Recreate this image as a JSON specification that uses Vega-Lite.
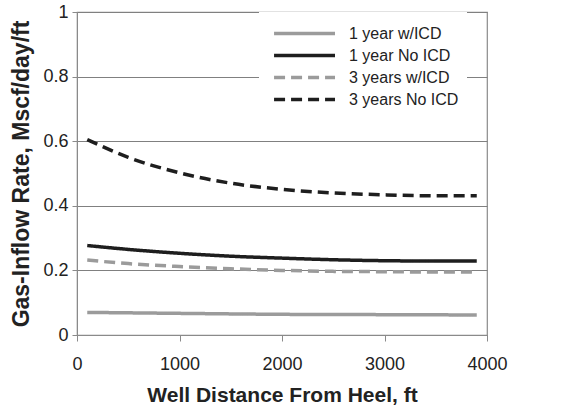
{
  "$schema": "https://vega.github.io/schema/vega-lite/v6.json",
  "width": 410,
  "height": 323,
  "autosize": "none",
  "padding": {"left": 77, "top": 12, "right": 96, "bottom": 77},
  "background": "white",
  "config": {
    "font": "Liberation Sans",
    "view": {"stroke": "#8a8a8a", "strokeWidth": 1.2}
  },
  "data": {
    "values": [
      {"d": 100, "r": 0.070, "s": "1 year w/ICD"},
      {"d": 1000, "r": 0.067, "s": "1 year w/ICD"},
      {"d": 2000, "r": 0.064, "s": "1 year w/ICD"},
      {"d": 3000, "r": 0.063, "s": "1 year w/ICD"},
      {"d": 3900, "r": 0.062, "s": "1 year w/ICD"},

      {"d": 100, "r": 0.277, "s": "1 year No ICD"},
      {"d": 500, "r": 0.265, "s": "1 year No ICD"},
      {"d": 1000, "r": 0.253, "s": "1 year No ICD"},
      {"d": 1500, "r": 0.244, "s": "1 year No ICD"},
      {"d": 2000, "r": 0.238, "s": "1 year No ICD"},
      {"d": 2500, "r": 0.233, "s": "1 year No ICD"},
      {"d": 3000, "r": 0.230, "s": "1 year No ICD"},
      {"d": 3500, "r": 0.229, "s": "1 year No ICD"},
      {"d": 3900, "r": 0.229, "s": "1 year No ICD"},

      {"d": 100, "r": 0.232, "s": "3 years w/ICD"},
      {"d": 500, "r": 0.221, "s": "3 years w/ICD"},
      {"d": 1000, "r": 0.212, "s": "3 years w/ICD"},
      {"d": 1500, "r": 0.205, "s": "3 years w/ICD"},
      {"d": 2000, "r": 0.200, "s": "3 years w/ICD"},
      {"d": 2500, "r": 0.197, "s": "3 years w/ICD"},
      {"d": 3000, "r": 0.196, "s": "3 years w/ICD"},
      {"d": 3500, "r": 0.195, "s": "3 years w/ICD"},
      {"d": 3900, "r": 0.195, "s": "3 years w/ICD"},

      {"d": 100, "r": 0.605, "s": "3 years No ICD"},
      {"d": 500, "r": 0.550, "s": "3 years No ICD"},
      {"d": 1000, "r": 0.502, "s": "3 years No ICD"},
      {"d": 1500, "r": 0.470, "s": "3 years No ICD"},
      {"d": 2000, "r": 0.451, "s": "3 years No ICD"},
      {"d": 2500, "r": 0.440, "s": "3 years No ICD"},
      {"d": 3000, "r": 0.434, "s": "3 years No ICD"},
      {"d": 3500, "r": 0.431, "s": "3 years No ICD"},
      {"d": 3900, "r": 0.431, "s": "3 years No ICD"}
    ]
  },
  "mark": {"type": "line", "strokeWidth": 3.5, "interpolate": "monotone"},
  "encoding": {
    "x": {
      "field": "d", "type": "quantitative",
      "scale": {"domain": [0, 4000], "nice": false},
      "axis": {
        "values": [0, 1000, 2000, 3000, 4000],
        "format": "d",
        "grid": false,
        "title": "Well Distance From Heel, ft",
        "titleFont": "Liberation Sans", "titleFontSize": 21, "titleFontWeight": "bold", "titleColor": "#222",
        "titlePadding": 11,
        "labelFontSize": 18, "labelColor": "#222", "labelPadding": 14,
        "labelFlush": false,
        "domainColor": "#8a8a8a", "tickColor": "#8a8a8a", "tickSize": 6
      }
    },
    "y": {
      "field": "r", "type": "quantitative",
      "scale": {"domain": [0, 1], "nice": false},
      "axis": {
        "values": [0, 0.2, 0.4, 0.6, 0.8, 1],
        "format": "~g",
        "grid": true, "gridColor": "#808080", "gridWidth": 1.2,
        "title": "Gas-Inflow Rate, Mscf/day/ft",
        "titleFont": "Liberation Sans", "titleFontSize": 23, "titleFontWeight": "bold", "titleColor": "#222",
        "titlePadding": 9,
        "labelFontSize": 18, "labelColor": "#222", "labelPadding": 4,
        "labelFlush": false,
        "domainColor": "#8a8a8a", "tickColor": "#8a8a8a", "tickSize": 5
      }
    },
    "color": {
      "field": "s", "type": "nominal",
      "scale": {
        "domain": ["1 year w/ICD", "1 year No ICD", "3 years w/ICD", "3 years No ICD"],
        "range": ["#9b9b9b", "#1e1e1e", "#9b9b9b", "#1e1e1e"]
      },
      "legend": {
        "title": null,
        "orient": "none",
        "legendX": 182,
        "legendY": 0,
        "fillColor": "white",
        "padding": 8,
        "symbolType": "M -0.56 0 H 4.74",
        "symbolSize": 529,
        "symbolStrokeWidth": 3.5,
        "labelFontSize": 16,
        "labelColor": "#222",
        "labelOffset": 55,
        "rowPadding": 0,
        "labelLimit": 300
      }
    },
    "strokeDash": {
      "field": "s", "type": "nominal",
      "scale": {
        "domain": ["1 year w/ICD", "1 year No ICD", "3 years w/ICD", "3 years No ICD"],
        "range": [[1, 0], [1, 0], [11, 6], [11, 6]]
      },
      "legend": {
        "title": null,
        "orient": "none",
        "legendX": 182,
        "legendY": 0,
        "fillColor": "white",
        "padding": 8,
        "symbolType": "M -0.56 0 H 4.74",
        "symbolSize": 529,
        "symbolStrokeWidth": 3.5,
        "labelFontSize": 16,
        "labelColor": "#222",
        "labelOffset": 55,
        "rowPadding": 0,
        "labelLimit": 300
      }
    }
  }
}
